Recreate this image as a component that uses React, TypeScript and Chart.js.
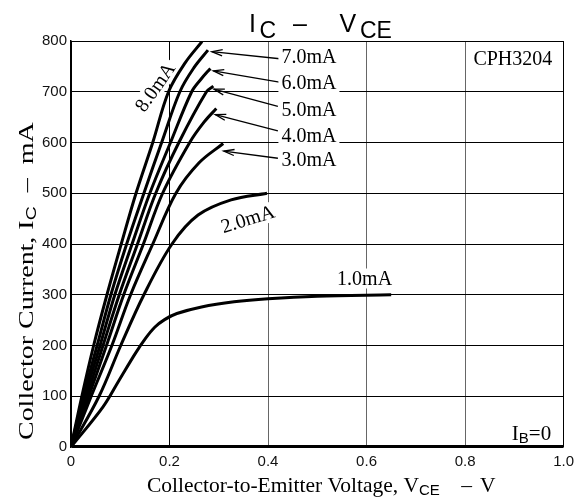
import { useEffect, useRef } from 'react';
import { Chart, registerables } from 'chart.js';

Chart.register(...registerables);

// ---- Data (VCE in V, IC in mA) ----
const curve8V = [0, 0.022, 0.046, 0.073, 0.102, 0.132, 0.166, 0.198, 0.231, 0.266];
const curve8I = [0, 100, 200, 300, 400, 500, 600, 700, 756, 799];
const curve7V = [0, 0.025, 0.053, 0.081, 0.113, 0.148, 0.184, 0.221, 0.25, 0.278];
const curve7I = [0, 100, 200, 300, 400, 500, 600, 700, 748, 782];
const curve6V = [0, 0.028, 0.059, 0.089, 0.124, 0.16, 0.202, 0.245, 0.265, 0.283];
const curve6I = [0, 100, 200, 300, 400, 500, 600, 700, 726, 746];
const curve5V = [0, 0.032, 0.065, 0.098, 0.135, 0.172, 0.219, 0.275, 0.289];
const curve5I = [0, 100, 200, 300, 400, 500, 600, 700, 711];
const curve4V = [0, 0.036, 0.072, 0.107, 0.147, 0.186, 0.241, 0.27, 0.295];
const curve4I = [0, 100, 200, 300, 400, 500, 600, 640, 667];
const curve3V = [0, 0.041, 0.083, 0.121, 0.166, 0.213, 0.26, 0.309];
const curve3I = [0, 100, 200, 300, 400, 500, 560, 598];
const curve2V = [0, 0.057, 0.101, 0.148, 0.205, 0.258, 0.325, 0.398];
const curve2I = [0, 100, 200, 300, 400, 457, 487, 500];
const curve1V = [0, 0.065, 0.098, 0.131, 0.152, 0.17, 0.19, 0.215, 0.265, 0.331, 0.4, 0.5, 0.65];
const curve1I = [0, 79, 132, 185, 215, 236, 251, 263, 276, 286, 292, 297, 300];
const curve0V = [0, 1.0];
const curve0I = [0, 0];

const curvesV = [curve8V, curve7V, curve6V, curve5V, curve4V, curve3V, curve2V, curve1V];
const curvesI = [curve8I, curve7I, curve6I, curve5I, curve4I, curve3I, curve2I, curve1I];

// axis
const xMin = 0, xMax = 1.0, xStep = 0.2;
const yMin = 0, yMax = 800, yStep = 100;

// curve labels (data units)
const labelTexts = ['7.0mA', '6.0mA', '5.0mA', '4.0mA', '3.0mA', '2.0mA', '1.0mA', '8.0mA', 'CPH3204'];
const labelV = [0.483, 0.483, 0.483, 0.483, 0.483, 0.359, 0.596, 0.171, 0.897];
const labelI = [769, 717, 665, 613, 566, 449, 332, 709, 766];
const labelAngle = [0, 0, 0, 0, 0, -17.5, 0, -55, 0];

// arrows (tail -> head)
const arrowTailV = [0.424, 0.423, 0.42, 0.42, 0.42];
const arrowTailI = [765, 719, 671, 623, 569];
const arrowHeadV = [0.286, 0.289, 0.29, 0.293, 0.31];
const arrowHeadI = [779, 741, 705, 655, 583];

const SERIF = '"Liberation Serif", "Times New Roman", serif';
const SANS = '"Liberation Sans", Arial, sans-serif';

function drawArrow(ctx: CanvasRenderingContext2D, x1: number, y1: number, x2: number, y2: number) {
  ctx.beginPath();
  ctx.moveTo(x1, y1);
  ctx.lineTo(x2, y2);
  ctx.stroke();
  const a = Math.atan2(y2 - y1, x2 - x1);
  const L = 11, w = 0.28;
  ctx.beginPath();
  ctx.moveTo(x2 - L * Math.cos(a - w), y2 - L * Math.sin(a - w));
  ctx.lineTo(x2, y2);
  ctx.lineTo(x2 - L * Math.cos(a + w), y2 - L * Math.sin(a + w));
  ctx.stroke();
}

const annotPlugin = {
  id: 'annot',
  beforeDatasetsDraw(chart: any) {
    const { ctx } = chart;
    const xs = chart.scales.x, ys = chart.scales.y;
    ctx.save();
    ctx.strokeStyle = '#000';
    ctx.lineWidth = 1.3;
    for (let i = 0; i < arrowTailV.length; i++) {
      drawArrow(ctx, xs.getPixelForValue(arrowTailV[i]), ys.getPixelForValue(arrowTailI[i]),
        xs.getPixelForValue(arrowHeadV[i]), ys.getPixelForValue(arrowHeadI[i]));
    }
    ctx.font = '20px ' + SERIF;
    ctx.textAlign = 'center';
    ctx.textBaseline = 'middle';
    for (let i = 0; i < labelTexts.length; i++) {
      const px = xs.getPixelForValue(labelV[i]);
      const py = ys.getPixelForValue(labelI[i]);
      ctx.save();
      ctx.translate(px, py);
      ctx.rotate((labelAngle[i] * Math.PI) / 180);
      const w = ctx.measureText(labelTexts[i]).width;
      ctx.fillStyle = '#fff';
      ctx.fillRect(-w / 2 - 3, -10, w + 6, 20);
      ctx.fillStyle = '#000';
      ctx.fillText(labelTexts[i], 0, 1);
      ctx.restore();
    }
    // IB=0
    ctx.textAlign = 'left';
    ctx.textBaseline = 'alphabetic';
    let x0 = xs.getPixelForValue(0.895);
    const yb = ys.getPixelForValue(14);
    ctx.font = '21px ' + SERIF;
    ctx.fillText('I', x0, yb);
    x0 += ctx.measureText('I').width;
    ctx.font = '15px ' + SANS;
    ctx.fillText('B', x0, yb + 3);
    x0 += ctx.measureText('B').width;
    ctx.font = '21px ' + SERIF;
    ctx.fillText('=0', x0, yb);
    ctx.restore();
  },
  afterDraw(chart: any) {
    const { ctx } = chart;
    ctx.save();
    ctx.fillStyle = '#000';
    ctx.textBaseline = 'alphabetic';
    ctx.textAlign = 'left';
    // Title IC - VCE
    ctx.font = '25px ' + SANS;
    ctx.fillText('I', 249, 31.7);
    ctx.font = '23px ' + SANS;
    ctx.fillText('C', 259.5, 37.5);
    ctx.font = '25px ' + SANS;
    ctx.textAlign = 'center';
    ctx.fillText('–', 300, 31.7);
    ctx.textAlign = 'left';
    ctx.fillText('V', 339.5, 31.7);
    ctx.font = '23px ' + SANS;
    ctx.fillText('CE', 360, 37.5);

    // X title
    let x = 147;
    ctx.font = '21.5px ' + SERIF;
    const t1 = 'Collector-to-Emitter Voltage, V';
    ctx.fillText(t1, x, 492);
    x += ctx.measureText(t1).width;
    ctx.font = '15px ' + SANS;
    ctx.fillText('CE', x, 495);
    ctx.font = '21.5px ' + SERIF;
    ctx.textAlign = 'center';
    ctx.fillText('–', 466.5, 492);
    ctx.textAlign = 'left';
    ctx.fillText('V', 480, 492);

    // Y title
    ctx.save();
    ctx.translate(33, 440);
    ctx.rotate(-Math.PI / 2);
    ctx.scale(1.3, 1);
    let yx = 0;
    ctx.font = '21.5px ' + SERIF;
    const s1 = 'Collector Current, I';
    ctx.fillText(s1, yx, 0);
    yx += ctx.measureText(s1).width;
    ctx.font = '15px ' + SANS;
    ctx.fillText('C', yx, 3);
    yx += ctx.measureText('C').width;
    ctx.font = '21.5px ' + SERIF;
    ctx.fillText('  –  mA', yx, 0);
    ctx.restore();
    ctx.restore();
  },
};

function near(a: number, b: number) {
  return Math.abs(a - b) < 1e-6;
}

export default function App() {
  const ref = useRef<HTMLCanvasElement>(null);
  useEffect(() => {
    document.body.style.margin = '0';
    const canvas = ref.current!;
    const datasets: any[] = curvesV.map((vs, k) => ({
      data: vs.map((v, i) => ({ x: v, y: curvesI[k][i] })),
      borderColor: '#000',
      borderWidth: 3,
      pointRadius: 0,
      fill: false,
      tension: 0.35,
    }));
    datasets.push({
      data: curve0V.map((v, i) => ({ x: v, y: curve0I[i] })),
      borderColor: '#000',
      borderWidth: 4,
      pointRadius: 0,
      fill: false,
    });
    const chart = new Chart(canvas, {
      type: 'line',
      data: { datasets },
      options: {
        animation: false,
        responsive: false,
        devicePixelRatio: 1,
        layout: { padding: { top: 41, right: 11, left: 0, bottom: 0 } },
        plugins: { legend: { display: false }, tooltip: { enabled: false }, title: { display: false } },
        scales: {
          x: {
            type: 'linear',
            min: xMin,
            max: xMax,
            ticks: {
              stepSize: xStep,
              padding: 6,
              color: '#111',
              font: { family: SANS, size: 15 },
              maxRotation: 0,
              autoSkip: false,
              callback: (v: any) => (Number(v) === 0 ? '0' : Number(v).toFixed(1)),
            },
            grid: {
              drawTicks: false,
              lineWidth: 1,
              color: (c: any) => {
                const v = c.tick ? c.tick.value : 0;
                if (near(v, 0) || near(v, 0.2) || near(v, 1)) return '#000';
                return '#666';
              },
            },
            border: { display: false },
            afterFit: (s: any) => {
              s.height = 50;
            },
          },
          y: {
            min: yMin,
            max: yMax,
            ticks: {
              stepSize: yStep,
              padding: 4,
              color: '#111',
              font: { family: SANS, size: 15 },
            },
            grid: { drawTicks: false, color: '#000', lineWidth: 1 },
            border: { display: true, color: '#000', width: 1.5 },
            afterFit: (s: any) => {
              s.width = 71;
            },
          },
        },
      },
      plugins: [annotPlugin],
    } as any);
    return () => chart.destroy();
  }, []);
  return <canvas ref={ref} width={580} height={497} style={{ display: 'block' }} />;
}
